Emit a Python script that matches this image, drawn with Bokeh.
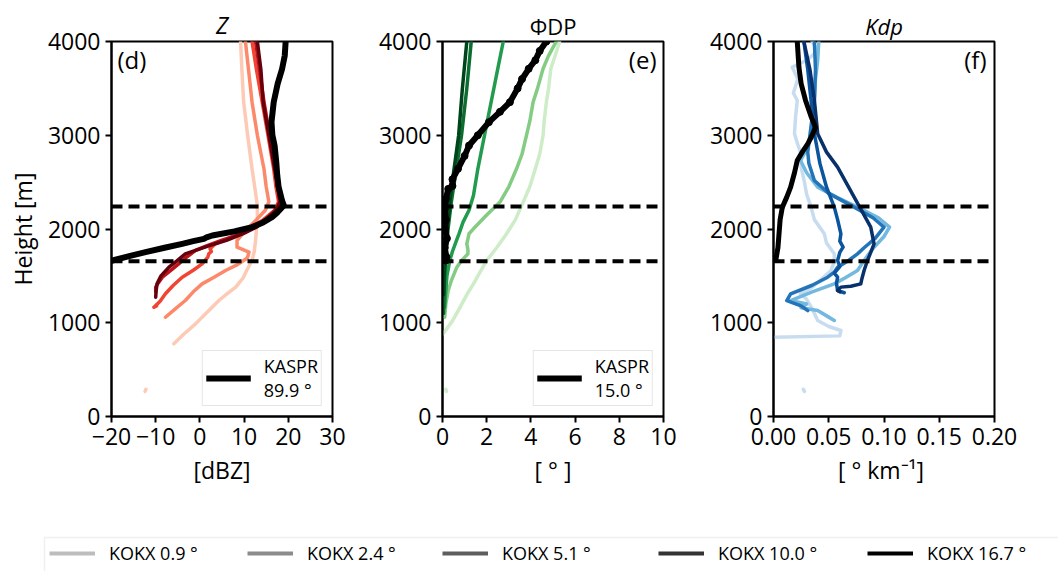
from bokeh.plotting import figure
from bokeh.models import (Range1d, FixedTicker, Span, Label, Legend, LegendItem, BoxAnnotation,
                          Title)
from bokeh.layouts import column, row
from bokeh.embed import file_html
from bokeh.resources import INLINE

nan = float("nan")
FONT = "Open Sans"

# ---------------- data ----------------
kokx_elev = ["0.9", "2.4", "5.1", "10.0", "16.7"]
panel_titles = ["Z", "\u03a6DP", "Kdp"]
kaspr_z_label = "KASPR\n89.9 °"
kaspr_phi_label = "KASPR\n15.0 °"
melting_layer = [2240, 1655]

# Panel (d): reflectivity Z [dBZ]
z_kaspr_h = [4000, 3850, 3709, 3550, 3353, 3140, 3000, 2890, 2700, 2571, 2450, 2300, 2251, 2233, 2180,
             2126, 2070, 2020, 1975, 1931, 1910, 1895, 1870, 1842, 1800, 1753, 1710, 1664, 1650]
z_kaspr = [19.4, 19.2, 18.6, 17.6, 16.7, 16.2, 16.4, 16.9, 17.3, 17.5, 17.8, 18.6, 19.0, 18.6, 17.6,
           16.3, 14.3, 11.8, 7.8, 2.8, 1.5, 0.9, -1.5, -4.0, -8.0, -12.3, -16.0, -19.8, -21.0]

z_kokx_h = [
    [4000, 3700, 3353, 3000, 2640, 2450, 2251, 2126, 2000, 1877, 1760, 1664, 1560, 1480, 1380, 1300, 1237,
     1120, 988, 880, 775, nan, 290, 268],
    [4000, 3700, 3353, 3000, 2640, 2450, 2290, 2200, 2100, 2020, 1940, 1877, 1806, 1753, 1700, 1682, 1620,
     1557, 1480, 1415, 1330, 1237, 1150, 1059],
    [4000, 3700, 3353, 3000, 2640, 2450, 2290, 2200, 2090, 2020, 1950, 1900, 1842, 1790, 1760, 1735, 1700,
     1628, 1560, 1486, 1400, 1309, 1230, 1166, 1180],
    [4000, 3700, 3353, 3000, 2640, 2290, 2200, 2100, 2020, 1950, 1880, 1820, 1771, 1700, 1628, 1550, 1486,
     1420, 1380, 1330],
    [4000, 3700, 3353, 3000, 2640, 2290, 2200, 2100, 2020, 1950, 1880, 1820, 1735, 1660, 1593, 1500, 1415,
     1340, 1273],
]
z_kokx = [
    [9.2, 9.5, 9.9, 10.8, 11.8, 12.4, 13.0, 13.0, 12.8, 12.6, 12.3, 11.8, 10.6, 9.8, 8.1, 5.9, 4.3,
     1.8, -1.0, -3.6, -5.9, nan, -12.2, -12.4],
    [10.3, 11.0, 11.8, 13.0, 14.5, 15.0, 15.6, 14.8, 12.8, 11.1, 9.5, 8.4, 8.4, 11.1, 10.8, 10.5, 8.5,
     5.8, 3.0, 0.5, -1.5, -3.3, -5.5, -7.8],
    [11.8, 12.8, 14.1, 15.4, 16.7, 17.2, 17.8, 16.9, 14.1, 11.5, 8.8, 6.5, 3.5, 2.3, 2.6, 2.0, 1.8,
     0.5, -1.5, -4.0, -6.0, -7.8, -9.0, -10.4, -9.8],
    [12.6, 13.5, 14.5, 15.8, 17.1, 18.0, 17.0, 14.8, 12.6, 9.5, 5.0, 1.5, -1.0, -3.0, -4.8, -6.8, -8.5,
     -9.5, -10.0, -10.0],
    [13.0, 13.8, 14.3, 15.6, 16.9, 18.2, 17.3, 15.0, 12.8, 9.8, 6.0, 2.0, -3.3, -5.2, -7.0, -8.8, -9.7,
     -9.9, -10.0],
]

# Panel (e): differential phase PhiDP [deg]
phi_kaspr_h = [4000, 3900, 3800, 3709, 3600, 3500, 3353, 3250, 3140, 3000, 2890, 2780, 2642, 2530, 2460,
               2428, 2320, 2215, 2100, 2000, 1900, 1800, 1700, 1664]
phi_kaspr = [4.7, 4.4, 4.2, 3.9, 3.6, 3.4, 3.05, 2.6, 2.1, 1.6, 1.2, 1.0, 0.7, 0.45, 0.45,
             0.26, 0.15, 0.1, 0.15, 0.12, 0.2, 0.1, 0.18, 0.15]
phi_kokx_h = [
    [4000, 3850, 3709, 3500, 3353, 3150, 2998, 2800, 2642, 2450, 2287, 2100, 1949, 1800, 1664, 1540, 1415,
     1300, 1166, 1020, 882, nan, 290, 268],
    [4000, 3850, 3709, 3500, 3353, 3150, 2998, 2800, 2642, 2450, 2287, 2150, 2002, 1949, 1842, 1780, 1735,
     1660, 1593, 1450, 1344, 1200, 1059],
    [4000, 3709, 3353, 2998, 2642, 2357, 2200, 2073, 1950, 1877, 1760, 1664, 1500, 1340, 1166],
    [4000, 3500, 2998, 2600, 2287, 2000, 1700, 1400, 1100],
    [4000, 3500, 2998, 2600, 2287, 2000, 1700, 1500, 1300],
]
phi_kokx = [
    [5.3, 5.1, 4.9, 4.8, 4.7, 4.6, 4.55, 4.4, 4.2, 3.95, 3.65, 3.3, 2.9, 2.45, 2.0, 1.7, 1.4,
     1.1, 0.8, 0.45, 0.03, nan, 0.15, 0.18],
    [5.15, 4.8, 4.55, 4.3, 4.1, 3.95, 3.8, 3.6, 3.35, 3.0, 2.6, 2.0, 1.4, 1.2, 1.1, 1.15, 1.15,
     0.85, 0.65, 0.4, 0.26, 0.15, 0.1],
    [2.75, 2.5, 2.2, 1.9, 1.6, 1.4, 1.2, 0.93, 0.75, 0.63, 0.45, 0.33, 0.2, 0.15, 0.1],
    [1.3, 1.1, 0.86, 0.6, 0.4, 0.25, 0.15, 0.08, 0.05],
    [1.1, 0.9, 0.73, 0.5, 0.33, 0.22, 0.12, 0.07, 0.05],
]

# Panel (f): specific differential phase Kdp [deg/km]
kdp_kaspr_h = [4000, 3726, 3550, 3371, 3200, 3086, 3000, 2908, 2820, 2731, 2600, 2446, 2340, 2233, 2100,
               1949, 1800, 1664]
kdp_kaspr = [0.0215, 0.023, 0.025, 0.029, 0.034, 0.038, 0.035, 0.031, 0.026, 0.0215, 0.019, 0.0155, 0.012,
             0.008, 0.006, 0.005, 0.004, 0.002]
kdp_kokx_h = [
    [4000, 3900, 3800, 3726, 3600, 3450, 3371, 3200, 3016, 2900, 2800, 2660, 2500, 2370, 2233, 2100, 1949,
     1850, 1735, 1650, 1557, 1450, 1380, 1309, 1250, 1150, 1024, 960, 917, 860, 846, nan, 290, 268],
    [4000, 3800, 3600, 3371, 3200, 3016, 2850, 2731, 2600, 2446, 2340, 2233, 2120, 2020, 1920, 1806, 1730,
     1664, 1557, 1480, 1415, 1330, 1237, 1200, 1160, 1130, 1060, 1024],
    [4000, 3700, 3371, 3100, 2820, 2700, 2518, 2380, 2233, 2120, 2020, 1900, 1800, 1735, 1664, 1593, 1540,
     1486, 1400, 1309, 1237, 1180, 1130],
    [4000, 3700, 3371, 3016, 2700, 2446, 2233, 2100, 1949, 1870, 1806, 1750, 1664, 1600, 1530, 1486, 1420,
     1344, 1320],
    [4000, 3700, 3371, 3016, 2820, 2660, 2446, 2233, 2020, 1842, 1750, 1664, 1557, 1470, 1415, 1390, 1380,
     1344, 1330],
]
kdp_kokx = [
    [0.035, 0.04, 0.03, 0.017, 0.022, 0.018, 0.0215, 0.02, 0.019, 0.022, 0.025, 0.025, 0.028, 0.03, 0.034,
     0.037, 0.046, 0.048, 0.055, 0.055, 0.052, 0.042, 0.035, 0.0245, 0.03, 0.035, 0.04, 0.05, 0.061, 0.06,
     0.0, nan, 0.027, 0.028],
    [0.041, 0.04, 0.038, 0.037, 0.035, 0.034, 0.03, 0.0245, 0.03, 0.04, 0.057, 0.076, 0.095, 0.105, 0.1,
     0.091, 0.086, 0.082, 0.076, 0.065, 0.055, 0.035, 0.0155, 0.03, 0.025, 0.04, 0.05, 0.055],
    [0.037, 0.038, 0.037, 0.034, 0.031, 0.032, 0.037, 0.05, 0.073, 0.09, 0.1, 0.092, 0.082, 0.076, 0.068,
     0.058, 0.055, 0.049, 0.035, 0.0155, 0.012, 0.025, 0.031],
    [0.0275, 0.031, 0.034, 0.037, 0.042, 0.048, 0.055, 0.058, 0.061, 0.06, 0.063, 0.06, 0.058, 0.06, 0.055,
     0.058, 0.057, 0.058, 0.064],
    [0.0275, 0.033, 0.037, 0.04, 0.048, 0.058, 0.068, 0.078, 0.088, 0.091, 0.088, 0.085, 0.082, 0.08,
     0.079, 0.07, 0.061, 0.058, 0.06],
]

reds = ["#fdcab5", "#fc8a6a", "#f14432", "#bc141a", "#67000d"]
greens = ["#cdecc7", "#84cc83", "#239b4e", "#0b6e30", "#00441b"]
blues = ["#c8dcf0", "#73b8de", "#2474b8", "#0b549e", "#08306b"]
grays = ["#bdbdbd", "#8c8c8c", "#5e5e5e", "#333333", "#000000"]

# ---------------- layout geometry ----------------
W = 1058
LEG_H = 51        # bottom legend strip height
H = 571 - LEG_H
TOP = 41
FRAME_H = 375
BOTTOM = H - TOP - FRAME_H
TICK_FS = "23px"
legend_item_x = [49, 247, 442, 658, 867]   # left edge of each bottom-legend entry


def make_panel(width, left, right, xr, xticks, overrides, xlabel, ylabel=None):
    p = figure(width=width, height=H, x_range=Range1d(*xr), y_range=Range1d(0, 4000),
               output_backend="svg", toolbar_location=None,
               min_border_left=left, min_border_right=right,
               min_border_top=TOP, min_border_bottom=BOTTOM)
    p.xgrid.visible = False
    p.ygrid.visible = False
    p.outline_line_color = "black"
    p.outline_line_width = 2
    p.outline_line_alpha = 1
    p.background_fill_color = "white"
    p.border_fill_color = "white"
    p.xaxis[0].ticker = FixedTicker(ticks=xticks)
    p.yaxis[0].ticker = FixedTicker(ticks=[0, 1000, 2000, 3000, 4000])
    p.xaxis[0].major_label_overrides = overrides
    p.xaxis[0].axis_label = xlabel
    if ylabel:
        p.yaxis[0].axis_label = ylabel
    for ax in (p.xaxis[0], p.yaxis[0]):
        ax.axis_line_width = 2
        ax.axis_line_color = "black"
        ax.major_tick_line_width = 2
        ax.major_tick_line_color = "black"
        ax.major_tick_out = 6
        ax.major_tick_in = 0
        ax.minor_tick_out = 0
        ax.minor_tick_in = 0
        ax.major_label_text_font = FONT
        ax.major_label_text_font_size = TICK_FS
        ax.major_label_text_color = "black"
        ax.major_label_standoff = 5
        ax.axis_label_text_font = FONT
        ax.axis_label_text_font_size = TICK_FS
        ax.axis_label_text_font_style = "normal"
        ax.axis_label_text_color = "black"
        ax.axis_label_standoff = 6
    return p


def add_spans(p):
    for loc in melting_layer:
        p.add_layout(Span(location=loc, dimension="width", line_color="black",
                          line_width=4, line_dash="11 6"))


def add_inset_legend(p, r, label):
    leg = Legend(items=[LegendItem(label=label, renderers=[r])], location="bottom_right",
                 margin=10, padding=3, glyph_width=45, label_standoff=13, spacing=0,
                 label_text_font=FONT, label_text_font_size="18px", label_text_color="black",
                 label_text_line_height=0.9,
                 border_line_color="#cccccc", border_line_width=1.5,
                 background_fill_alpha=0.85)
    p.add_layout(leg)


def corner_label(p, x, y, text, align, xoff):
    p.add_layout(Label(x=x, y=y, text=text, x_offset=xoff, y_offset=-1,
                       text_align=align, text_baseline="top",
                       text_font=FONT, text_font_size="24px", text_color="black"))


def panel_title(p, text, size, style):
    p.title.visible = False
    p.add_layout(Title(text=text, align="center", vertical_align="bottom", standoff=2,
                       text_font=FONT, text_font_size=size, text_font_style=style,
                       text_color="black"), "above")


# ---------------- panel d ----------------
pd_ = make_panel(372, 111, 40, (-20, 30), [-20, -10, 0, 10, 20, 30],
                 {-20: "\u221220", -10: "\u221210"}, "[dBZ]", "Height [m]")
for hh, vv, c in zip(z_kokx_h, z_kokx, reds):
    pd_.line(vv, hh, line_color=c, line_width=3.5, line_join="round", line_cap="round")
rk = pd_.line(z_kaspr, z_kaspr_h, line_color="black", line_width=6, line_join="round")
add_spans(pd_)
add_inset_legend(pd_, rk, kaspr_z_label)
corner_label(pd_, -20, 4000, "(d)", "left", 6)
panel_title(pd_, panel_titles[0], "23px", "italic")

# ---------------- panel e ----------------
pe = make_panel(331, 70, 40, (0, 10), [0, 2, 4, 6, 8, 10], {}, "[ \u00b0 ]")
for hh, vv, c in zip(phi_kokx_h, phi_kokx, greens):
    pe.line(vv, hh, line_color=c, line_width=3.5, line_join="round", line_cap="round")
re_ = pe.line(phi_kaspr, phi_kaspr_h, line_color="black", line_width=6, line_join="round")
pe.scatter(phi_kaspr, phi_kaspr_h, size=7, color="black")
add_spans(pe)
add_inset_legend(pe, re_, kaspr_phi_label)
corner_label(pe, 10, 4000, "(e)", "right", -7)
panel_title(pe, panel_titles[1], "22px", "normal")

# ---------------- panel f ----------------
pf = make_panel(355, 70, 64, (0, 0.2), [0, 0.05, 0.1, 0.15, 0.2],
                {0: "0.00", 0.05: "0.05", 0.1: "0.10", 0.15: "0.15", 0.2: "0.20"},
                "[ \u00b0  km\u207b\u00b9]")
for hh, vv, c in zip(kdp_kokx_h, kdp_kokx, blues):
    pf.line(vv, hh, line_color=c, line_width=3.5, line_join="round", line_cap="round")
pf.line(kdp_kaspr, kdp_kaspr_h, line_color="black", line_width=5, line_join="round")
add_spans(pf)
corner_label(pf, 0.2, 4000, "(f)", "right", -8)
panel_title(pf, panel_titles[2], "22px", "italic")

# ---------------- bottom legend ----------------
lf = figure(width=W, height=LEG_H, x_range=Range1d(0, W), y_range=Range1d(0, LEG_H),
            output_backend="svg", toolbar_location=None, min_border=0,
            x_axis_location=None, y_axis_location=None)
lf.grid.visible = False
lf.outline_line_color = None
lf.add_layout(BoxAnnotation(left=44, right=W + 20, bottom=-20, top=LEG_H - 17,
                            fill_alpha=0, line_color="#cccccc", line_width=1.5))
for e, c, lx in zip(kokx_elev, grays, legend_item_x):
    r = lf.line(x=[nan, nan], y=[nan, nan], line_color=c, line_width=4)
    lf.add_layout(Legend(items=[LegendItem(label="KOKX %s \u00b0" % e, renderers=[r])],
                         location=(lx, 6), padding=0, margin=0, glyph_width=46, label_standoff=14,
                         label_text_font=FONT, label_text_font_size="18px", label_text_color="black",
                         border_line_color=None, background_fill_alpha=0))

layout = column(row(pd_, pe, pf, spacing=0), lf, spacing=0)
open("out.html", "w").write(file_html(layout, INLINE))
